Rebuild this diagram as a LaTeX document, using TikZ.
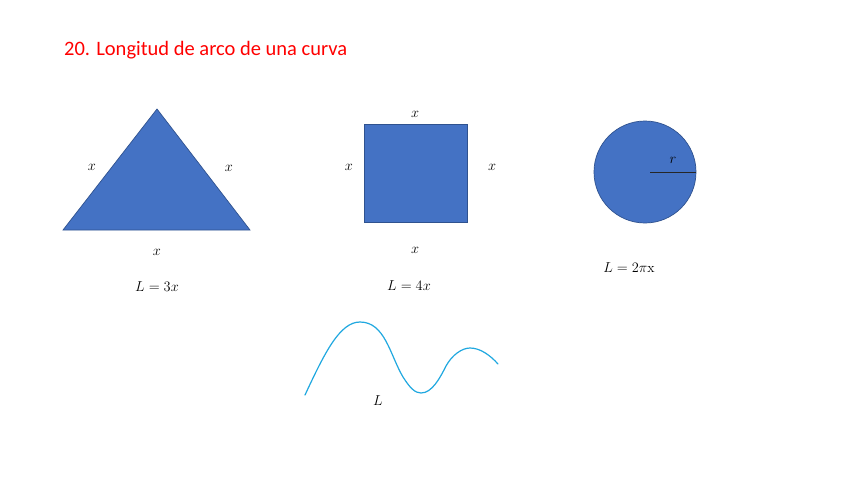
\documentclass[tikz,border=0pt]{standalone}
\usepackage{fontspec}
\newfontfamily\titlefont{Carlito}
\definecolor{shapeblue}{RGB}{68,114,196}
\definecolor{shapeedge}{RGB}{47,82,143}
\definecolor{curvecol}{RGB}{32,168,224}
\definecolor{titlered}{RGB}{255,0,0}
\begin{document}
\begin{tikzpicture}[x=1pt,y=-1pt,
  shapefill/.style={fill=shapeblue,draw=shapeedge,line width=0.7pt},
  lbl/.style={inner sep=0pt,font=\fontsize{15}{17}\selectfont},
  formula/.style={inner sep=0pt,font=\fontsize{14}{16}\selectfont}]
\useasboundingbox (0,0) rectangle (848,477);
\fill[white] (0,0) rectangle (848,477);
% title
\node[anchor=base west,inner sep=0pt,text=titlered,font=\titlefont\fontsize{20.5}{24}\selectfont] (title) at (64,55) {20. Longitud de arco de una curva};
% triangle
\draw[shapefill] (63,230) -- (157,109) -- (250,230) -- cycle;
\node[lbl] (t1) at (92,167) {$x$};
\node[lbl] (t2) at (229,168) {$x$};
\node[lbl] (t3) at (157,252) {$x$};
\node[formula] (f1) at (157,287) {$L=3x$};
% square
\draw[shapefill] (364,124) rectangle (467,222);
\node[lbl] (s1) at (415,114) {$x$};
\node[lbl] (s2) at (349,167) {$x$};
\node[lbl] (s3) at (492,167) {$x$};
\node[lbl] (s4) at (415,250) {$x$};
\node[formula] (f2) at (409,286) {$L=4x$};
% circle
\draw[shapefill] (645,172) circle (51);
\coordinate (cc) at (650,172);
\coordinate (ce) at (696,172);
\draw[line width=0.8pt,black!85] (cc) -- (ce);
\node[lbl] (rl) at (673,160) {$r$};
\node[formula] (f3) at (629,268) {$L=2\pi\mathrm{x}$};
% curve
\draw[line width=1.2pt,curvecol,line cap=round]
  (305,395) .. controls (325,352) and (340,322) .. (360,322)
  .. controls (385,322) and (390,355) .. (403,377)
  .. controls (410,388) and (415,393) .. (421,393)
  .. controls (432,393) and (440,378) .. (446,366)
  .. controls (452,355) and (462,348) .. (470,348)
  .. controls (480,348) and (490,355) .. (498,364);
\node[lbl] (cl) at (378,401) {$L$};
\end{tikzpicture}
\end{document}
